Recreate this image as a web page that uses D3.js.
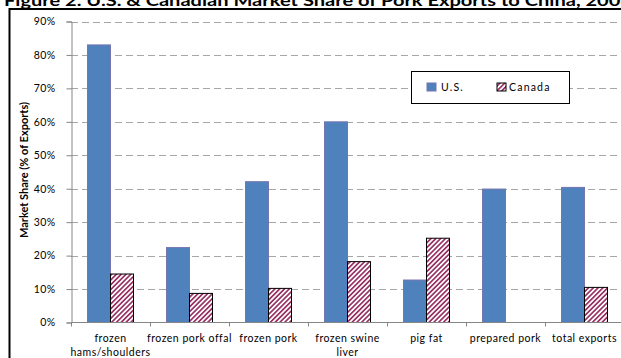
<!DOCTYPE html>
<html><head><meta charset="utf-8">
<script src="https://cdn.jsdelivr.net/npm/d3@7/dist/d3.min.js"></script>
<style>
body{margin:0;background:#fff;}
svg{display:block;font-family:Lato,"Open Sans",sans-serif;}
</style></head><body>
<svg id="c" width="621" height="358"></svg>
<script>
const title = "Figure 2. U.S. & Canadian Market Share of Pork Exports to China, 2008";
const categories = [["frozen","hams/shoulders"],["frozen pork offal"],["frozen pork"],["frozen swine","liver"],["pig fat"],["prepared pork"],["total exports"]];
const seriesNames = ["U.S.","Canada"];
const usValues = [83, 22.4, 42.1, 60.0, 12.7, 39.9, 40.4];
const canadaValues = [14.5, 8.7, 10.2, 18.2, 25.2, 0, 10.5];
const yTicks = [0,10,20,30,40,50,60,70,80,90];
const yLabel = "Market Share (% of Exports)";

const svg = d3.select("#c");
const defs = svg.append("defs");
const pat = defs.append("pattern").attr("id","stripe").attr("patternUnits","userSpaceOnUse")
  .attr("width",3.4).attr("height",3.4).attr("patternTransform","rotate(45)");
pat.append("rect").attr("width",3.4).attr("height",3.4).attr("fill","#fff");
pat.append("rect").attr("width",1.7).attr("height",3.4).attr("fill","#993366");

// title (partially cut at top, as in the reference)
svg.append("text").attr("x",4).attr("y",6).attr("font-weight","bold").attr("font-size",15)
  .attr("textLength",628).attr("lengthAdjust","spacingAndGlyphs").attr("fill","#000").text(title);

// outer frame
svg.append("rect").attr("x",9.5).attr("y",9).attr("width",700).attr("height",400)
  .attr("fill","none").attr("stroke","#000").attr("stroke-width",2);

const x0 = 71, bandW = 79;
const x = d3.scaleBand().domain(d3.range(categories.length)).range([x0, x0 + bandW*categories.length]).paddingInner(0).paddingOuter(0);
const y = d3.scaleLinear().domain([0,90]).range([322.5,21.5]);
const xs = d3.scaleBand().domain([0,1]).range([16.5, 62.5]);

// gridlines
svg.append("g").selectAll("line").data(yTicks.filter(d=>d>0)).join("line")
  .attr("x1",x0).attr("x2",621).attr("y1",d=>Math.round(y(d))+0.5).attr("y2",d=>Math.round(y(d))+0.5)
  .attr("stroke","#a6a6a6").attr("stroke-width",1).attr("stroke-dasharray","7,4");

// bars
const g = svg.append("g");
categories.forEach((c,i)=>{
  g.append("rect").attr("x",x(i)+xs(0)).attr("width",xs.bandwidth())
    .attr("y",y(usValues[i])).attr("height",y(0)-y(usValues[i]))
    .attr("fill","#4f81bd").attr("stroke","#7575b0").attr("stroke-width",1);
  if (canadaValues[i] > 0) {
    g.append("rect").attr("x",x(i)+xs(1)).attr("width",xs.bandwidth())
      .attr("y",y(canadaValues[i])).attr("height",y(0)-y(canadaValues[i]))
      .attr("fill","url(#stripe)").attr("stroke","#000").attr("stroke-width",1);
  }
});

// y axis
const yAxis = d3.axisLeft(y).tickValues(yTicks).tickFormat(d=>d+"%").tickSize(5).tickPadding(11);
const ya = svg.append("g").attr("transform",`translate(${x0+0.5},0)`).call(yAxis);
ya.select(".domain").attr("stroke","#868686");
ya.selectAll(".tick line").attr("stroke","#868686");
ya.selectAll(".tick text").attr("font-size",10.5).attr("fill","#000").attr("font-family","Lato,sans-serif").style("letter-spacing","0.4px");

// x axis
const xa = svg.append("g").attr("transform",`translate(0,${y(0)})`);
xa.append("line").attr("x1",x0).attr("x2",621).attr("stroke","#868686");
xa.selectAll("line.t").data(d3.range(categories.length+1)).join("line").attr("class","t")
  .attr("x1",d=>x0+d*bandW+0.5).attr("x2",d=>x0+d*bandW+0.5).attr("y1",0).attr("y2",4).attr("stroke","#868686");
categories.forEach((c,i)=>{
  const t = xa.append("text").attr("text-anchor","middle").attr("font-size",10.5).attr("fill","#000")
    .style("letter-spacing","0.5px");
  c.forEach((line,j)=>{
    t.append("tspan").attr("x",x(i)+bandW/2).attr("y",19+j*14).text(line);
  });
});

// y label
svg.append("text").attr("transform","translate(28,170) rotate(-90)").attr("text-anchor","middle")
  .attr("font-size",11).attr("font-weight","bold").attr("fill","#000").text(yLabel);

// legend
const lg = svg.append("g");
lg.append("rect").attr("x",411.5).attr("y",71.5).attr("width",158).attr("height",32).attr("fill","#fff").attr("stroke","#000");
const legendItems = [{name:seriesNames[0],fill:"#4f81bd",stroke:"#7575b0",x:427,tx:441},{name:seriesNames[1],fill:"url(#stripe)",stroke:"#000",x:497,tx:509}];
legendItems.forEach(d=>{
  lg.append("rect").attr("x",d.x).attr("y",83).attr("width",9).attr("height",8).attr("fill",d.fill).attr("stroke",d.stroke);
  lg.append("text").attr("x",d.tx).attr("y",91).attr("font-size",10.5).attr("fill","#000").style("letter-spacing","1.2px").text(d.name);
});
</script>
</body></html>
